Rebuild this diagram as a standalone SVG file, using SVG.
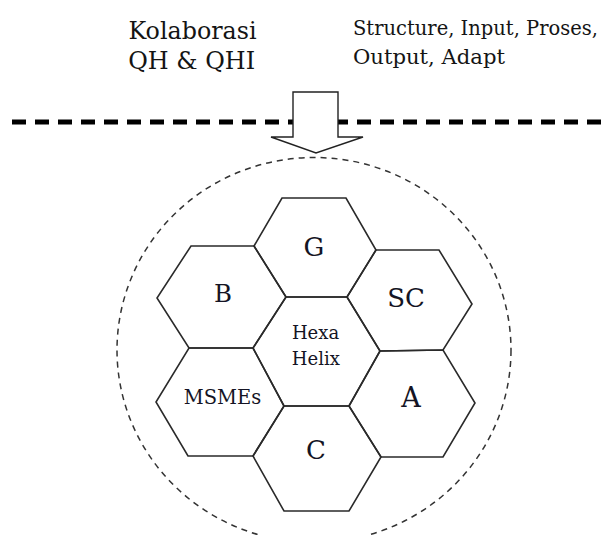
<svg xmlns="http://www.w3.org/2000/svg" width="608" height="535" viewBox="0 0 608 535">
<style>
.t{font-family:"DejaVu Serif","Liberation Serif",serif;fill:#141414}
.hex{fill:none;stroke:#2a2a2a;stroke-width:1.6;stroke-linejoin:miter}
.lbl{font-family:"DejaVu Serif","Liberation Serif",serif;fill:#141424;text-anchor:middle}
</style>
<rect width="608" height="535" fill="#ffffff"/>
<g id="header">
<text class="t" x="192.5" y="38.5" font-size="24" text-anchor="middle" textLength="128" lengthAdjust="spacingAndGlyphs">Kolaborasi</text>
<text class="t" x="191.7" y="69" font-size="24" text-anchor="middle" textLength="127" lengthAdjust="spacingAndGlyphs">QH &amp; QHI</text>
<text class="t" x="353" y="35" font-size="19.6" textLength="245" lengthAdjust="spacingAndGlyphs">Structure, Input, Proses,</text>
<text class="t" x="353" y="63.5" font-size="21" textLength="152" lengthAdjust="spacingAndGlyphs">Output, Adapt</text>
</g>
<g id="divider">
<line x1="12" y1="122" x2="602" y2="122" stroke="#000" stroke-width="5" stroke-dasharray="14 9"/>
</g>
<g id="boundary">
<ellipse cx="314" cy="350" rx="197" ry="192.5" fill="none" stroke="#333" stroke-width="1.5" stroke-dasharray="6 5"/>
</g>
<g id="connectors">
<polygon points="293,92 338,92 338,137 363,137 316,153 271,137 293,137" fill="#fff" stroke="#222" stroke-width="1.4" stroke-linejoin="miter"/>
</g>
<g id="node-G">
<polygon class="hex" points="282,198 346,198 376,250 347,297 286,297 254,246"/>
<text class="lbl" x="314" y="255.5" font-size="26">G</text>
</g>
<g id="node-B">
<polygon class="hex" points="191,246 254,246 286,297 253,348 189,348 157,298"/>
<text class="lbl" x="223" y="301.5" font-size="24.5">B</text>
</g>
<g id="node-SC">
<polygon class="hex" points="376,250 439,250 472,304 443,350 380,351 347,297"/>
<text class="lbl" x="406" y="306.5" font-size="26">SC</text>
</g>
<g id="node-HexaHelix">
<polygon class="hex" points="286,297 347,297 380,351 349,406 284,406 253,348"/>
<text class="lbl" x="315.5" y="339" font-size="18">Hexa</text>
<text class="lbl" x="315.8" y="365" font-size="18">Helix</text>
</g>
<g id="node-MSMEs">
<polygon class="hex" points="189,348 253,348 284,406 253,456 188,456 156,402"/>
<text class="lbl" x="222.5" y="404" font-size="19.5">MSMEs</text>
</g>
<g id="node-A">
<polygon class="hex" points="380,351 443,350 475,403 443,457 381,457 349,406"/>
<text class="lbl" x="411" y="406.5" font-size="27">A</text>
</g>
<g id="node-C">
<polygon class="hex" points="284,406 349,406 381,457 349,511 284,511 253,456"/>
<text class="lbl" x="316" y="458.5" font-size="26">C</text>
</g>
</svg>
